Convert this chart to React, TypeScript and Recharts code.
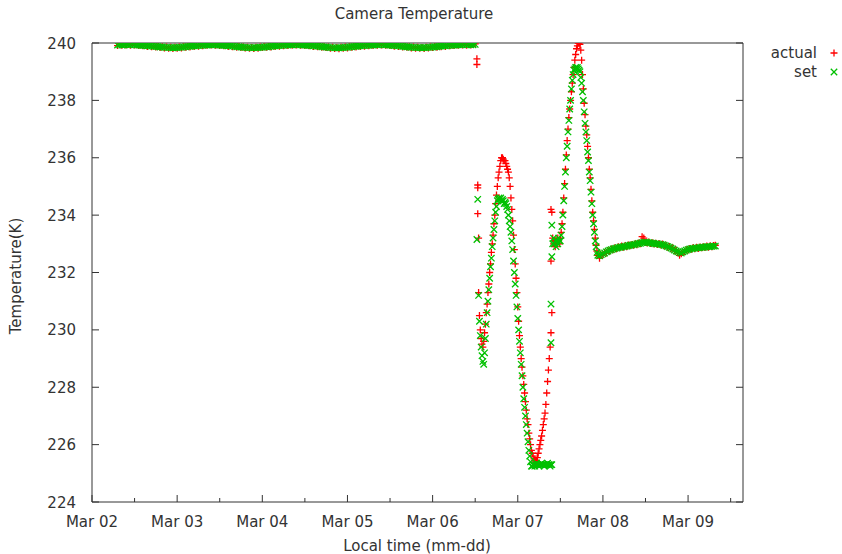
import { ScatterChart, Scatter, XAxis, YAxis } from "recharts";

const FONT = "DejaVu Sans";
const INK = "#333333";
const AXIS = "#333333";
const RED = "#ff0000";
const GREEN = "#00c000";

const DAY_LABELS = ["Mar 02", "Mar 03", "Mar 04", "Mar 05", "Mar 06", "Mar 07", "Mar 08", "Mar 09"];
const X_TICKS = [0, 0.5, 1, 1.5, 2, 2.5, 3, 3.5, 4, 4.5, 5, 5.5, 6, 6.5, 7, 7.5];
const Y_TICKS = [224, 226, 228, 230, 232, 234, 236, 238, 240];

// days since Mar 02 00:00 ; A = holding 240 K, one sample every 0.025 d
const A_START = 0.3;
const A_STEP = 0.025;
const actualA = [
  239.91, 239.95, 239.92, 239.96, 239.93, 239.95, 239.92, 239.96, 239.93, 239.94,
  239.91, 239.93, 239.9, 239.92, 239.88, 239.91, 239.87, 239.89, 239.86, 239.88,
  239.84, 239.87, 239.83, 239.86, 239.82, 239.85, 239.81, 239.85, 239.82, 239.86,
  239.83, 239.87, 239.85, 239.89, 239.86, 239.9, 239.88, 239.91, 239.89, 239.93,
  239.9, 239.94, 239.92, 239.95, 239.93, 239.96, 239.92, 239.94, 239.91, 239.93,
  239.9, 239.92, 239.88, 239.91, 239.87, 239.89, 239.85, 239.88, 239.84, 239.86,
  239.83, 239.85, 239.82, 239.84, 239.81, 239.85, 239.82, 239.86, 239.84, 239.87,
  239.85, 239.88, 239.86, 239.9, 239.88, 239.91, 239.89, 239.93, 239.9, 239.94,
  239.91, 239.95, 239.92, 239.96, 239.93, 239.95, 239.92, 239.94, 239.91, 239.93,
  239.9, 239.92, 239.88, 239.9, 239.87, 239.89, 239.85, 239.87, 239.84, 239.86,
  239.82, 239.85, 239.81, 239.84, 239.8, 239.85, 239.82, 239.86, 239.83, 239.87,
  239.85, 239.89, 239.86, 239.9, 239.88, 239.92, 239.89, 239.93, 239.9, 239.94,
  239.91, 239.95, 239.92, 239.96, 239.93, 239.95, 239.92, 239.94, 239.91, 239.93,
  239.89, 239.92, 239.88, 239.9, 239.86, 239.88, 239.85, 239.87, 239.83, 239.86,
  239.82, 239.85, 239.82, 239.84, 239.81, 239.85, 239.83, 239.86, 239.84, 239.88,
  239.85, 239.89, 239.87, 239.91, 239.88, 239.92, 239.9, 239.93, 239.91, 239.94,
  239.92, 239.95, 239.93, 239.96, 239.92, 239.96, 239.93, 239.95, 239.97,
];
const setA = [
  239.93, 239.94, 239.93, 239.94, 239.95, 239.94, 239.94, 239.95, 239.94, 239.93,
  239.93, 239.92, 239.92, 239.91, 239.9, 239.9, 239.89, 239.88, 239.88, 239.87,
  239.86, 239.86, 239.85, 239.85, 239.84, 239.84, 239.83, 239.84, 239.84, 239.85,
  239.85, 239.86, 239.87, 239.88, 239.88, 239.89, 239.9, 239.9, 239.91, 239.92,
  239.92, 239.93, 239.93, 239.94, 239.94, 239.94, 239.94, 239.93, 239.93, 239.92,
  239.92, 239.91, 239.9, 239.9, 239.89, 239.88, 239.87, 239.87, 239.86, 239.85,
  239.85, 239.84, 239.84, 239.83, 239.84, 239.84, 239.84, 239.85, 239.85, 239.86,
  239.87, 239.87, 239.88, 239.89, 239.9, 239.9, 239.91, 239.92, 239.92, 239.93,
  239.93, 239.94, 239.94, 239.95, 239.94, 239.94, 239.94, 239.93, 239.93, 239.92,
  239.92, 239.91, 239.9, 239.89, 239.89, 239.88, 239.87, 239.86, 239.86, 239.85,
  239.84, 239.84, 239.83, 239.83, 239.83, 239.84, 239.84, 239.85, 239.85, 239.86,
  239.87, 239.88, 239.88, 239.89, 239.9, 239.91, 239.91, 239.92, 239.92, 239.93,
  239.93, 239.94, 239.94, 239.94, 239.95, 239.94, 239.94, 239.93, 239.93, 239.92,
  239.91, 239.91, 239.9, 239.89, 239.88, 239.87, 239.87, 239.86, 239.85, 239.85,
  239.84, 239.84, 239.84, 239.83, 239.84, 239.84, 239.85, 239.85, 239.86, 239.87,
  239.87, 239.88, 239.89, 239.9, 239.9, 239.91, 239.92, 239.92, 239.93, 239.93,
  239.94, 239.94, 239.94, 239.95, 239.94, 239.95, 239.94, 239.94, 239.95,
];

// B = the two excursions, one sample every 0.01 d
const B_START = 4.55;
const B_STEP = 0.01;
const actualB = [
  230.5, 230.0, 229.7, 229.5, 229.4, 229.6, 229.9, 230.2, 230.6, 230.9,
  231.3, 231.6, 232.0, 232.3, 232.7, 233.0, 233.3, 233.7, 234.0, 234.4,
  234.7, 235.0, 235.3, 235.5, 235.7, 235.9, 236.0, 236.0, 235.95, 235.9,
  235.9, 235.8, 235.7, 235.6, 235.5, 235.3, 235.0, 234.6, 234.2, 233.8,
  233.3, 232.8, 232.3, 231.8, 231.3, 230.8, 230.3, 229.8, 229.4, 229.0,
  228.7, 228.4, 228.1, 227.8, 227.5, 227.2, 226.9, 226.7, 226.4, 226.2,
  226.0, 225.8, 225.7, 225.6, 225.5, 225.45, 225.4, 225.45, 225.55, 225.7,
  225.85, 226.0, 226.15, 226.3, 226.5, 226.7, 226.9, 227.1, 227.4, 227.8,
  228.2, 228.6, 229.0, 229.4, 229.9, 230.6, 233.2, 233.0, 233.1, 232.9,
  233.1, 233.0, 233.2, 233.1, 233.0, 233.2, 233.4, 233.7, 234.1, 234.6,
  235.1, 235.6, 236.1, 236.6, 237.0, 237.4, 237.7, 238.0, 238.3, 238.6,
  238.9, 239.15, 239.4, 239.6, 239.8, 239.9, 240.0, 240.0, 239.95, 239.75,
  239.4, 238.9, 238.4, 237.9, 237.5, 237.1, 236.8, 236.4, 236.0, 235.6,
  235.3, 234.9, 234.5, 234.1, 233.8, 233.5, 233.2, 232.95, 232.75, 232.6,
];
const setB = [
  230.3, 229.8, 229.4, 229.1, 228.9, 228.8, 229.2, 229.7, 230.2, 230.6,
  231.0, 231.4, 231.8, 232.2, 232.5, 232.9, 233.2, 233.5, 233.8, 234.1,
  234.3, 234.5, 234.55, 234.6, 234.55, 234.6, 234.5, 234.55, 234.5, 234.4,
  234.45, 234.4, 234.3, 234.2, 234.0, 233.8, 233.6, 233.4, 233.1, 232.8,
  232.4, 232.0, 231.6, 231.2, 230.8, 230.4, 230.0, 229.6, 229.2, 228.8,
  228.4, 228.0, 227.6, 227.3, 227.0, 226.7, 226.4, 226.1, 225.8, 225.6,
  225.4, 225.25, 225.25, 225.3, 225.3, 225.25, 225.3, 225.35, 225.3, 225.3,
  225.25, 225.3, 225.3, 225.35, 225.3, 225.3, 225.25, 225.3, 225.3, 225.3,
  225.35, 225.3, 225.3, 225.25, 225.3, 225.3, 233.0, 233.2, 233.0, 233.1,
  232.9, 233.1, 233.0, 233.2, 233.1, 233.1, 233.3, 233.6, 234.0, 234.5,
  235.0, 235.5, 236.0, 236.4, 236.9, 237.3, 237.7, 238.0, 238.4, 238.7,
  238.9, 239.05, 239.1, 239.15, 239.1, 239.15, 239.1, 239.05, 239.0, 238.8,
  238.6, 238.3, 238.0, 237.6, 237.2, 236.9, 236.6, 236.2, 235.9, 235.5,
  235.2, 234.8, 234.4, 234.0, 233.7, 233.4, 233.1, 232.9, 232.7, 232.6,
];

// C = settled near 233 K, one sample every 0.02 d
const C_START = 5.96;
const C_STEP = 0.02;
const actualC = [
  232.5, 232.6, 232.62, 232.7, 232.68, 232.77, 232.74, 232.82, 232.79, 232.86,
  232.83, 232.9, 232.86, 232.92, 232.88, 232.94, 232.9, 232.96, 232.93, 232.98,
  232.95, 233.0, 232.97, 233.03, 233.0, 233.25, 233.2, 233.05, 233.03, 233.06,
  233.01, 233.04, 232.99, 233.02, 232.98, 233.01, 232.96, 232.99, 232.93, 232.95,
  232.88, 232.91, 232.83, 232.86, 232.76, 232.78, 232.68, 232.6, 232.65, 232.7,
  232.73, 232.79, 232.78, 232.84, 232.81, 232.87, 232.83, 232.88, 232.84, 232.89,
  232.86, 232.9, 232.87, 232.92, 232.88, 232.93, 232.9, 232.94, 232.95,
];
const setC = [
  232.58, 232.62, 232.65, 232.68, 232.72, 232.75, 232.78, 232.8, 232.82, 232.84,
  232.85, 232.87, 232.88, 232.89, 232.9, 232.91, 232.92, 232.94, 232.95, 232.96,
  232.97, 232.98, 233.0, 233.01, 233.02, 233.04, 233.05, 233.06, 233.05, 233.04,
  233.03, 233.02, 233.01, 233.0, 233.0, 232.99, 232.98, 232.97, 232.95, 232.93,
  232.9, 232.88, 232.85, 232.82, 232.78, 232.75, 232.72, 232.7, 232.68, 232.72,
  232.75, 232.78, 232.8, 232.82, 232.83, 232.84, 232.85, 232.86, 232.86, 232.87,
  232.88, 232.88, 232.89, 232.9, 232.9, 232.9, 232.91, 232.92, 232.92,
];

// stray samples at the two jumps: [day, K]
const actualStray = [
  [4.52, 239.45], [4.52, 239.25], [4.53, 235.05], [4.53, 234.95], [4.53, 234.05],
  [4.54, 233.2], [4.54, 231.3], [5.39, 232.4], [5.39, 234.2], [5.4, 234.1],
];
const setStray = [
  [4.53, 234.55], [4.52, 233.15], [4.54, 231.2], [5.39, 229.55], [5.39, 230.9],
  [5.4, 232.55], [5.4, 233.65],
];

function tramo(start: number, step: number, vals: number[]) {
  return vals.map((v, i) => ({ t: +(start + i * step).toFixed(3), v }));
}

const actualData = [
  ...tramo(A_START, A_STEP, actualA),
  ...tramo(B_START, B_STEP, actualB),
  ...tramo(C_START, C_STEP, actualC),
  ...actualStray.map(([t, v]) => ({ t, v })),
];
const setData = [
  ...tramo(A_START, A_STEP, setA),
  ...tramo(B_START, B_STEP, setB),
  ...tramo(C_START, C_STEP, setC),
  ...setStray.map(([t, v]) => ({ t, v })),
];

const PlusMark = (p: any) => (
  <path d={`M${p.cx - 3.5},${p.cy}h7M${p.cx},${p.cy - 3.5}v7`} stroke={RED} strokeWidth={1.3} fill="none" />
);
const CrossMark = (p: any) => (
  <path d={`M${p.cx - 3.2},${p.cy - 3.2}l6.4,6.4M${p.cx - 3.2},${p.cy + 3.2}l6.4,-6.4`} stroke={GREEN} strokeWidth={1.3} fill="none" />
);

const txt = { fontFamily: FONT, fontSize: 15, fill: INK };

function BottomTick({ x, y, payload }: any) {
  const major = Number.isInteger(payload.value);
  return (
    <g>
      <line x1={x} x2={x} y1={y} y2={y - (major ? 7 : 4)} stroke={AXIS} />
      {major && (
        <text x={x} y={y + 25} textAnchor="middle" {...txt}>
          {DAY_LABELS[payload.value]}
        </text>
      )}
    </g>
  );
}
function TopTick({ x, y, payload }: any) {
  const major = Number.isInteger(payload.value);
  return <line x1={x} x2={x} y1={y} y2={y + (major ? 7 : 4)} stroke={AXIS} />;
}
function LeftTick({ x, y, payload }: any) {
  return (
    <g>
      <line x1={x} x2={x + 7} y1={y} y2={y} stroke={AXIS} />
      <text x={x - 16} y={y + 5.5} textAnchor="end" {...txt}>
        {payload.value}
      </text>
    </g>
  );
}
function RightTick({ x, y }: any) {
  return <line x1={x} x2={x - 7} y1={y} y2={y} stroke={AXIS} />;
}

export default function App() {
  return (
    <div style={{ position: "absolute", left: 0, top: 0, width: 842, height: 554, background: "#fff" }}>
      <ScatterChart width={842} height={554} margin={{ top: 33, right: 89, bottom: 22, left: 32 }}>
        <XAxis
          xAxisId="b"
          type="number"
          dataKey="t"
          domain={[0, 7.645]}
          ticks={X_TICKS}
          allowDataOverflow
          height={30}
          tickSize={0}
          tickMargin={0}
          tickLine={false}
          axisLine={{ stroke: AXIS }}
          tick={BottomTick}
          interval={0}
        />
        <XAxis
          xAxisId="top"
          orientation="top"
          type="number"
          domain={[0, 7.645]}
          ticks={X_TICKS}
          allowDataOverflow
          height={10}
          tickSize={0}
          tickMargin={0}
          tickLine={false}
          axisLine={{ stroke: AXIS }}
          tick={TopTick}
          interval={0}
        />
        <YAxis
          yAxisId="l"
          type="number"
          dataKey="v"
          domain={[224, 240]}
          ticks={Y_TICKS}
          allowDataOverflow
          width={60}
          tickSize={0}
          tickMargin={0}
          tickLine={false}
          axisLine={{ stroke: AXIS }}
          tick={LeftTick}
          interval={0}
        />
        <YAxis
          yAxisId="r"
          orientation="right"
          type="number"
          domain={[224, 240]}
          ticks={Y_TICKS}
          allowDataOverflow
          width={10}
          tickSize={0}
          tickMargin={0}
          tickLine={false}
          axisLine={{ stroke: AXIS }}
          tick={RightTick}
          interval={0}
        />
        <Scatter name="actual" data={actualData} xAxisId="b" yAxisId="l" shape={PlusMark} isAnimationActive={false} />
        <Scatter name="set" data={setData} xAxisId="b" yAxisId="l" shape={CrossMark} isAnimationActive={false} />
      </ScatterChart>
      <svg width={842} height={554} style={{ position: "absolute", left: 0, top: 0, pointerEvents: "none" }}>
        <text x={414} y={19} textAnchor="middle" {...txt}>
          Camera Temperature
        </text>
        <text x={417} y={551} textAnchor="middle" {...txt}>
          Local time (mm-dd)
        </text>
        <text x={21} y={276} textAnchor="middle" transform="rotate(-90 21 276)" {...txt}>
          Temperature(K)
        </text>
        <text x={817} y={58} textAnchor="end" {...txt}>
          actual
        </text>
        <PlusMark cx={834} cy={53} />
        <text x={817} y={77} textAnchor="end" {...txt}>
          set
        </text>
        <CrossMark cx={834} cy={72} />
      </svg>
    </div>
  );
}
